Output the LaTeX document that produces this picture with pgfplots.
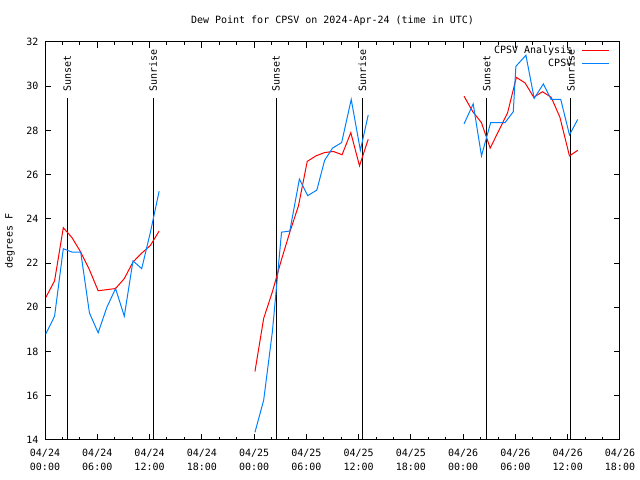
\documentclass[border=0pt]{standalone}
\usepackage{pgfplots}
\pgfplotsset{compat=1.18}
\usepackage{pgfplotstable}
\usepackage{fontspec}
\newfontfamily\gfont{DejaVu Sans Mono}
\newcommand{\gf}{\gfont\fontsize{10bp}{13.5bp}\selectfont}
\definecolor{cpsvred}{RGB}{255,0,0}
\definecolor{cpsvblue}{RGB}{0,128,255}

\pgfplotstableread{
h v
0.1 20.45
1.1 21.2
2.1 23.6
3.1 23.15
4.1 22.5
5.1 21.7
6.1 20.75
7.1 20.8
8.1 20.85
9.1 21.3
10.1 22.05
11.1 22.45
12.1 22.8
13.1 23.45
nan nan
24.1 17.1
25.1 19.5
26.1 20.7
27.1 22.1
28.1 23.4
29.1 24.6
30.1 26.6
31.1 26.85
32.1 27.0
33.1 27.05
34.1 26.9
35.1 27.9
36.1 26.4
37.1 27.6
nan nan
48.1 29.55
49.1 28.85
50.1 28.35
51.1 27.2
52.1 28.0
53.1 28.8
54.1 30.4
55.1 30.15
56.1 29.5
57.1 29.75
58.1 29.5
59.1 28.6
60.2 26.85
61.15 27.1
}\analysis

\pgfplotstableread{
h v
0.1 18.8
1.1 19.6
2.1 22.65
3.1 22.5
4.1 22.5
5.1 19.75
6.1 18.85
7.1 20.0
8.1 20.85
9.1 19.6
10.1 22.1
11.1 21.75
12.1 23.4
13.1 25.25
nan nan
24.1 14.35
25.1 15.8
26.1 18.9
27.15 23.4
28.1 23.45
29.2 25.8
30.15 25.05
31.2 25.3
32.1 26.65
33.0 27.2
34.05 27.45
35.15 29.4
36.2 27.1
37.1 28.7
nan nan
48.1 28.3
49.15 29.2
50.1 26.85
51.15 28.35
52.1 28.35
52.8 28.35
53.75 28.85
54.05 30.9
55.2 31.4
56.15 29.45
57.2 30.1
58.1 29.4
59.2 29.4
60.2 27.8
61.15 28.5
}\cpsv

\begin{document}
\begin{tikzpicture}
\useasboundingbox (-45bp,-40bp) rectangle (595bp,440bp);
\begin{axis}[
  at={(0,0)}, anchor=south west,
  scale only axis,
  width=575bp, height=398bp,
  xmin=0, xmax=66, ymin=14, ymax=32,
  axis line style={line width=1bp},
  unbounded coords=jump,
  xtick={0,6,...,66},
  xticklabels={{04/24\\00:00},{04/24\\06:00},{04/24\\12:00},{04/24\\18:00},{04/25\\00:00},{04/25\\06:00},{04/25\\12:00},{04/25\\18:00},{04/26\\00:00},{04/26\\06:00},{04/26\\12:00},{04/26\\18:00}},
  minor xtick={2,4,8,10,14,16,20,22,26,28,32,34,38,40,44,46,50,52,56,58,62,64},
  ytick={14,16,...,32},
  tick align=inside,
  tick pos=both,
  major tick length=6bp,
  minor tick length=3bp,
  every tick/.style={black, line width=1bp},
  /pgf/number format/assume math mode=true,
  xticklabel style={font=\gf, align=center, yshift=-6bp},
  yticklabel style={font=\gf, xshift=-3bp},
  title={Dew Point for CPSV on 2024-Apr-24 (time in UTC)},
  title style={font=\gf, at={(0.5,1)}, anchor=base, yshift=13bp},
  ylabel={degrees F},
  every axis y label/.style={at={(rel axis cs:0,0.5)}, xshift=-35bp, rotate=90, anchor=center, font=\gf},
  legend style={draw=none, fill=none, at={(1,1)}, anchor=north east, xshift=-9bp, yshift=-1bp, font=\gf, row sep=0bp, inner sep=1bp},
  legend cell align=right,
  legend plot pos=right,
  legend image code/.code={\path[draw=none, fill=none] (0bp,0bp) -- (35bp,0bp); \draw[#1] (8bp,0bp) -- (35bp,0bp);},
]
\addplot[black, line width=1bp, forget plot] coordinates {(2.55,14) (2.55,29.45)};
\addplot[black, line width=1bp, forget plot] coordinates {(12.42,14) (12.42,29.45)};
\addplot[black, line width=1bp, forget plot] coordinates {(26.52,14) (26.52,29.45)};
\addplot[black, line width=1bp, forget plot] coordinates {(36.42,14) (36.42,29.45)};
\addplot[black, line width=1bp, forget plot] coordinates {(50.7,14) (50.7,29.45)};
\addplot[black, line width=1bp, forget plot] coordinates {(60.35,14) (60.35,29.45)};
\node[rotate=90, anchor=west, font=\gf, inner sep=0pt] at (axis cs:2.55,29.75) {Sunset};
\node[rotate=90, anchor=west, font=\gf, inner sep=0pt] at (axis cs:12.42,29.75) {Sunrise};
\node[rotate=90, anchor=west, font=\gf, inner sep=0pt] at (axis cs:26.52,29.75) {Sunset};
\node[rotate=90, anchor=west, font=\gf, inner sep=0pt] at (axis cs:36.42,29.75) {Sunrise};
\node[rotate=90, anchor=west, font=\gf, inner sep=0pt] at (axis cs:50.7,29.75) {Sunset};
\node[rotate=90, anchor=west, font=\gf, inner sep=0pt] at (axis cs:60.35,29.75) {Sunrise};
\addplot[cpsvred, line width=1bp] table[x=h, y=v] {\analysis};
\addlegendentry{CPSV Analysis}
\addplot[cpsvblue, line width=1bp] table[x=h, y=v] {\cpsv};
\addlegendentry{CPSV}
\end{axis}
\end{tikzpicture}
\end{document}
